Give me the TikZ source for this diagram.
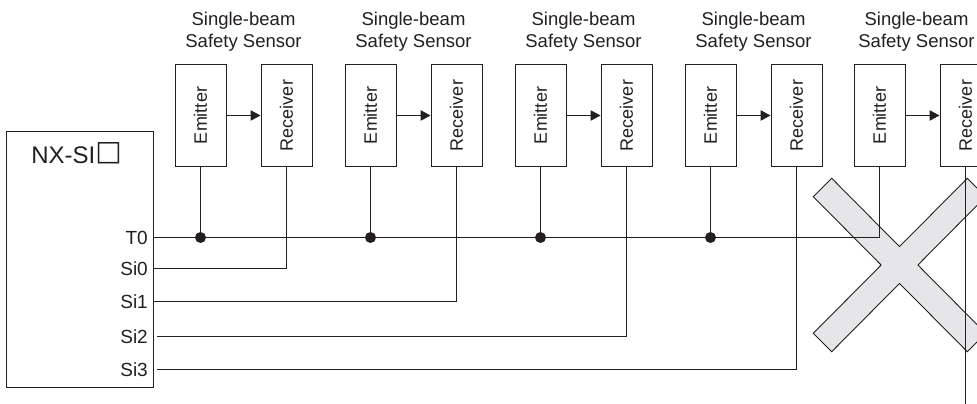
\documentclass[tikz,border=0pt]{standalone}
\usepackage{fontspec}
\setmainfont{Liberation Sans}
\newfontfamily\symfont{DejaVu Sans}
\usetikzlibrary{arrows.meta}
\definecolor{ink}{HTML}{231F20}
\definecolor{crossfill}{HTML}{E6E6E8}
\begin{document}
\begin{tikzpicture}[x=1pt,y=-1pt,
  sbox/.style={draw=ink, line width=1pt, minimum width=51pt, minimum height=101pt, inner sep=0pt, text=ink, font=\fontsize{18}{20}\selectfont},
  title/.style={align=center, text=ink, font=\fontsize{18.5}{22.5}\selectfont},
  port/.style={anchor=east, inner sep=0pt, text=ink, font=\fontsize{19}{20}\selectfont},
  wire/.style={draw=ink, line width=1pt},
  beam/.style={wire, -{Triangle[length=10pt,width=10.5pt]}},
  jdot/.style={circle, fill=ink, inner sep=0pt, minimum size=11pt},
  ctrlbox/.style={draw=ink, line width=1pt, minimum width=146.6pt, minimum height=256.7pt, inner sep=0pt}]
\useasboundingbox (0,0) rectangle (977,404);
\clip (0,0) rectangle (977,404);

% controller
\node[ctrlbox] (ctrl) at (80,259.35) {};
\node[anchor=base, inner sep=0pt, text=ink, font=\fontsize{24}{28}\selectfont] (name) at (76.5,163.3) {NX-SI\raisebox{2.5pt}{\symfont\fontsize{28}{30}\selectfont □}};
\node[port] (p0) at (148,237.5) {T0};
\node[port] (p1) at (148,268.5) {Si0};
\node[port] (p2) at (148,301.5) {Si1};
\node[port] (p3) at (148,336.5) {Si2};
\node[port] (p4) at (148,369.5) {Si3};

% sensors
\foreach \i/\ex/\tx in {1/200.5/243.5, 2/370.5/413.5, 3/540.5/583.5, 4/710.5/753.5, 5/879.5/916.5}{
  \node[sbox] (e\i) at (\ex,115.5) {\rotatebox{90}{Emitter}};
  \node[sbox] (r\i) at (\ex+86,115.5) {\rotatebox{90}{Receiver}};
  \node[title] (t\i) at (\tx,31.5) {Single-beam\\Safety Sensor};
  \draw[beam] (e\i.east) -- (r\i.west);
}

% cross
\draw[draw=ink, line width=0.9pt, fill=crossfill, line join=miter]
  (813.3,196.7) -- (831.7,178.3) -- (899.5,246.6) -- (967.3,178.3) -- (985.7,196.7) -- (917.9,265)
  -- (985.7,333.3) -- (967.3,351.7) -- (899.5,283.4) -- (831.7,351.7) -- (813.3,333.3) -- (881.1,265) -- cycle;

% T0 line
\coordinate (t0s) at (ctrl.east |- p0);
\draw[wire] (t0s) -| (e5.south);
\foreach \i in {1,...,4}{
  \node[jdot] (d\i) at (e\i.south |- p0) {};
  \draw[wire] (e\i.south) -- (d\i.center);
}

% Si lines
\coordinate (s0) at (ctrl.east |- p1);
\coordinate (s1) at (ctrl.east |- p2);
\coordinate (s2) at ([xshift=3.3pt]ctrl.east |- p3);
\coordinate (s3) at ([xshift=3.3pt]ctrl.east |- p4);
\draw[wire] (s0) -| (r1.south);
\draw[wire] (s1) -| (r2.south);
\draw[wire] (s2) -| (r3.south);
\draw[wire] (s3) -| (r4.south);

% last receiver lead
\coordinate (bot) at (r5.south |- 0,404);
\draw[wire] (r5.south) -- (bot);
\end{tikzpicture}
\end{document}
